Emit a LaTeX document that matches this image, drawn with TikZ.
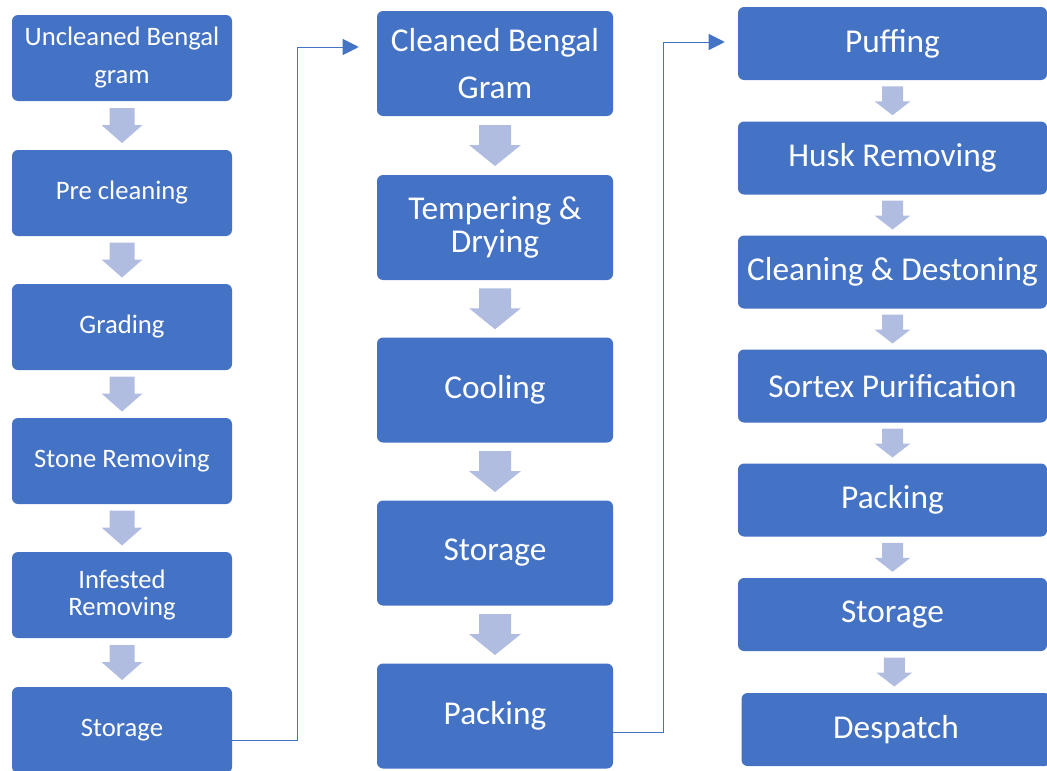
\documentclass[tikz,border=0pt]{standalone}
\usepackage{fontspec}
\setmainfont{Carlito}
\usetikzlibrary{calc,arrows.meta}
\definecolor{stepblue}{HTML}{4472C4}
\definecolor{arrowgrey}{HTML}{B0BDE0}

\tikzset{
    stepbox/.style={fill=stepblue, rounded corners=4.5pt, text=white,
        align=center, inner sep=0pt},
    colA/.style={stepbox, minimum width=165pt, minimum height=64.5pt,
        font=\fontsize{20}{22}\selectfont},
    colB/.style={stepbox, minimum width=177pt, minimum height=78.75pt,
        font=\fontsize{25}{28}\selectfont},
    colC/.style={stepbox, minimum width=231.75pt, minimum height=54.75pt,
        font=\fontsize{25}{28}\selectfont},
    link/.style={draw=stepblue, line width=0.75pt,
        -{Triangle[length=12pt,width=12pt]}},
    % block arrow: shaft half width / head half width / length / head length
    pics/blockarrow/.style args={#1/#2/#3/#4}{code={
        \fill[arrowgrey] (-#1,-#3/2) -- (#1,-#3/2) -- (#1,#3/2-#4)
            -- (#2,#3/2-#4) -- (0,#3/2) -- (-#2,#3/2-#4)
            -- (-#1,#3/2-#4) -- cycle;
    }}
}

\begin{document}
\begin{tikzpicture}[x=0.75pt, y=-0.75pt]
    \useasboundingbox (0,0) rectangle (1047,771);

    % first column
    \node[colA] (raw) at (122,58)
            {Uncleaned Bengal\\[6.5pt]gram};
    \node[colA] (precl) at (122,193)
            {Pre cleaning};
    \node[colA] (grade) at (122,327)
            {Grading};
    \node[colA] (stone) at (122,461)
            {Stone Removing};
    \node[colA] (infest) at (122,595)
            {Infested\\[-1.75pt]Removing};
    \node[colA] (storeA) at (122,730)
            {Storage};

    % second column
    \node[colB] (clean) at (495,63.5)
            {Cleaned Bengal\\[7pt]Gram};
    \node[colB] (temper) at (495,227.5)
            {Tempering \&\\[-3pt]Drying};
    \node[colB] (cool) at (495,390)
            {Cooling};
    \node[colB] (storeB) at (495,553)
            {Storage};
    \node[colB] (packB) at (495,716)
            {Packing};

    % third column
    \node[colC] (puff) at (892.5,43.5)
            {Puffing};
    \node[colC] (husk) at (892.5,158)
            {Husk Removing};
    \node[colC] (destone) at (892.5,272)
            {Cleaning \& Destoning};
    \node[colC] (sortex) at (892.5,386)
            {Sortex Purification};
    \node[colC] (packC) at (892.5,500)
            {Packing};
    \node[colC] (storeC) at (892.5,614.5)
            {Storage};
    \node[colC] (desp) at (896,729.5)
            {Despatch};

    % block arrows between the steps
    \foreach \a/\b in {raw/precl, precl/grade, grade/stone, stone/infest,
            infest/storeA}
        \pic at ($(\a.south)!0.5!(\b.north)$) {blockarrow={12.5/20.5/35/18}};
    \foreach \a/\b in {clean/temper, temper/cool, cool/storeB, storeB/packB}
        \pic at ($(\a.south)!0.5!(\b.north)$) {blockarrow={16/26/41/21}};
    \foreach \a/\b in {puff/husk, husk/destone, destone/sortex,
            sortex/packC, packC/storeC, storeC/desp}
        \pic at ($(\a.south)!0.5!(\b.north)$) {blockarrow={10.5/18/29/14}};

    % links between the columns
    \coordinate (outA) at ($(storeA.east)+(0,10)$);
    \coordinate (tipB) at ($(clean.west)+(-18,-16.5)$);
    \coordinate (outB) at ($(packB.east)+(0,16)$);
    \coordinate (tipC) at ($(puff.west)+(-13,-1.5)$);
    \draw[link] (outA) -| ($(tipB)+(-61,0)$) -- (tipB);
    \draw[link] (outB) -| ($(tipC)+(-61,0)$) -- (tipC);
\end{tikzpicture}
\end{document}
